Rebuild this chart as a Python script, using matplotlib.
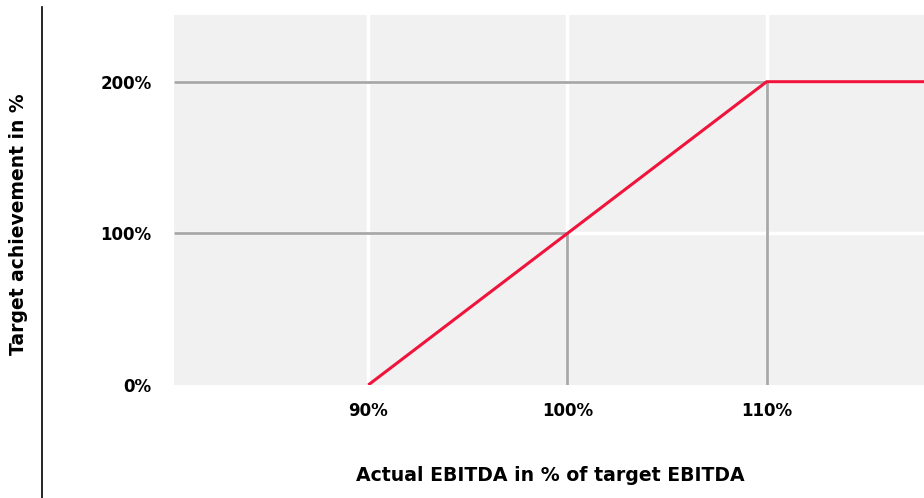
import matplotlib.pyplot as plt
from matplotlib.lines import Line2D

# payout curve: target achievement vs. actual EBITDA (% of target)
curve_x = [90, 110, 118]
curve_y = [0, 200, 200]

x_ticks = [90, 100, 110]
x_labels = ["90%", "100%", "110%"]
y_ticks = [0, 100, 200]
y_labels = ["0%", "100%", "200%"]

# reference guides (x, y) to the kinks of the curve
guide_points = [(100, 100), (110, 200)]

plt.rcParams["font.family"] = ["DejaVu Sans"]

fig = plt.figure(figsize=(9.24, 4.98), dpi=100)
ax = fig.add_axes([174 / 924, 113 / 498, 750 / 924, 370 / 498])
ax.set_facecolor("#f1f1f1")
ax.set_xlim(80.25, 117.9)
ax.set_ylim(0, 244)

for x in x_ticks:
    ax.axvline(x, color="white", lw=2.5, zorder=1)
for y in y_ticks[1:]:
    ax.axhline(y, color="white", lw=2.5, zorder=1)

for gx, gy in guide_points:
    ax.plot([ax.get_xlim()[0], gx], [gy, gy], color="#a8a8a8", lw=2, zorder=2,
            solid_capstyle="butt")
    ax.plot([gx, gx], [0, gy], color="#a8a8a8", lw=2, zorder=2,
            solid_capstyle="butt")

ax.plot(curve_x, curve_y, color="#f0143c", lw=2.2, zorder=3,
        solid_capstyle="butt")

for s in ax.spines.values():
    s.set_visible(False)
ax.tick_params(length=0, labelsize=12)
ax.set_xticks(x_ticks, x_labels, fontweight="bold")
ax.set_yticks(y_ticks, y_labels, fontweight="bold")
ax.tick_params(axis="x", pad=12)
ax.tick_params(axis="y", pad=16)

fig.text(550 / 924, 1 - 475 / 498, "Actual EBITDA in % of target EBITDA",
         ha="center", va="center", fontsize=13.6, fontweight="bold")
fig.text(19 / 924, 1 - 224 / 498, "Target achievement in %", rotation=90,
         ha="center", va="center", fontsize=13.5, fontweight="bold")

fig.add_artist(Line2D([41.5 / 924, 41.5 / 924], [0, 1 - 7 / 498],
                      color="black", lw=1.2))

fig.savefig("out.png", dpi=100)
